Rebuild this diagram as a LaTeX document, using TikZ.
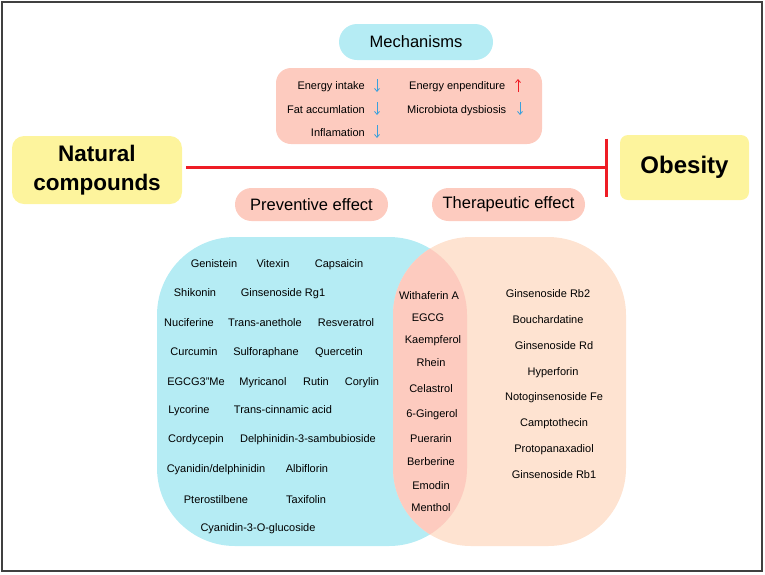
\documentclass[tikz,border=0pt]{standalone}
\usepackage{fontspec}
\setmainfont{Liberation Sans}
\usetikzlibrary{arrows.meta}

\definecolor{pillblue}{HTML}{B5ECF4}
\definecolor{salmon}{HTML}{FDCBBF}
\definecolor{peach}{HTML}{FEE3D1}
\definecolor{lemon}{HTML}{FDF49D}
\definecolor{arrblue}{HTML}{3AA0DC}
\definecolor{inhred}{HTML}{EE1C25}
\definecolor{framegray}{HTML}{404040}

\begin{document}
\begin{tikzpicture}[x=1pt,y=-1pt,
    item/.style={inner sep=0pt, anchor=base, font=\fontsize{11}{13}\selectfont},
    pill/.style={inner sep=0pt, font=\fontsize{16.5}{20}\selectfont},
    bigbox/.style={fill=lemon, inner sep=0pt, align=center, font=\bfseries\fontsize{22.5}{29}\selectfont},
    dnarrow/.style={draw=arrblue, line width=0.8pt, -{Straight Barb[length=3pt,width=5pt]}},
    uparrow/.style={draw=inhred, line width=0.8pt, -{Straight Barb[length=3pt,width=5pt]}}]
    \useasboundingbox (0,0) rectangle (765,574);
    \draw[framegray, line width=1.5pt] (2,2) rectangle (762,571);

    % mechanisms
    \node[pill, fill=pillblue, rounded corners=18, minimum width=154, minimum height=36] (mech) at (416,42) {Mechanisms};
    \node[fill=salmon, rounded corners=15, minimum width=266, minimum height=76, inner sep=0pt] (mechbox) at (409,106) {};
    \node[item, anchor=base east] (eint) at (365,89) {Energy intake};
    \node[item, anchor=base east] (fat) at (365,113) {Fat accumlation};
    \node[item, anchor=base east] (infl) at (365,136) {Inflamation};
    \node[item, anchor=base west] (eexp) at (409,89) {Energy enpenditure};
    \node[item, anchor=base west] (micro) at (407,113) {Microbiota dysbiosis};
    \draw[dnarrow] (377,79) -- (377,92);
    \draw[dnarrow] (377,102) -- (377,115);
    \draw[dnarrow] (377,125) -- (377,138);
    \draw[uparrow] (518,92) -- (518,79);
    \draw[dnarrow] (520,102) -- (520,115);

    % natural compounds -| obesity
    \node[bigbox, rounded corners=12, minimum width=170, minimum height=68] (nat) at (97,170) {Natural\\compounds};
    \node[bigbox, rounded corners=8, minimum width=129, minimum height=65, font=\bfseries\fontsize{24}{29}\selectfont] (obe) at (684.5,167.5) {Obesity};
    \draw[inhred, line width=3pt, -{Bar[width=58pt,line width=3pt]}, shorten <=4pt, shorten >=12pt] (nat.east |- obe.west) -- (obe.west);

    \node[pill, fill=salmon, rounded corners=16.5, minimum width=153, minimum height=33] (prev) at (311.5,204.5) {Preventive effect};
    \node[pill, fill=salmon, rounded corners=16.5, minimum width=153, minimum height=33] (ther) at (508.5,204.5) {Therapeutic effect};

    % venn
    \fill[pillblue, rounded corners=78] (157,237) rectangle (467,546);
    \fill[peach, rounded corners=78] (393,237) rectangle (626,546);
    \begin{scope}
        \clip[rounded corners=78] (157,237) rectangle (467,546);
        \fill[salmon, rounded corners=78] (393,237) rectangle (626,546);
    \end{scope}

    \foreach \nm/\x/\y/\t in {gen/214/263/Genistein, vit/273/263/Vitexin, cap/339/263/Capsaicin,
        shi/195/292/Shikonin, rgone/283/292/Ginsenoside Rg1,
        nuc/189/322/Nuciferine, tan/265/322/Trans-anethole, res/346/322/Resveratrol,
        cur/194/351/Curcumin, sul/266/351/Sulforaphane, que/339/351/Quercetin,
        egm/196/381/EGCG3"Me, myr/263/381/Myricanol, rut/316/381/Rutin, cor/362/381/Corylin,
        lyc/189/409/Lycorine, tca/283/409/Trans-cinnamic acid,
        cdy/196/438/Cordycepin, del/308/438/Delphinidin-3-sambubioside,
        cya/216/468/{Cyanidin/delphinidin}, alb/307/468/Albiflorin,
        pte/216/499/Pterostilbene, tax/306/499/Taxifolin,
        cgl/258/527/Cyanidin-3-O-glucoside}
        \node[item] (\nm) at (\x,\y+4) {\t};

    \foreach \nm/\x/\y/\t in {wit/429/295/Withaferin A, egc/428/317/EGCG, kae/433/339/Kaempferol,
        rhe/431/362/Rhein, cel/431/388/Celastrol, gin/432/413/6-Gingerol, pue/431/438/Puerarin,
        ber/431/461/Berberine, emo/431/485/Emodin, men/431/507/Menthol}
        \node[item] (\nm) at (\x,\y+4) {\t};

    \foreach \nm/\x/\y/\t in {rbtwo/548/293/Ginsenoside Rb2, bou/548/319/Bouchardatine,
        grd/554/345/Ginsenoside Rd, hyp/553/371/Hyperforin, noto/554/396/Notoginsenoside Fe,
        cam/554/422/Camptothecin, ppd/554/448/Protopanaxadiol, rbone/554/474/Ginsenoside Rb1}
        \node[item] (\nm) at (\x,\y+4) {\t};
\end{tikzpicture}
\end{document}
